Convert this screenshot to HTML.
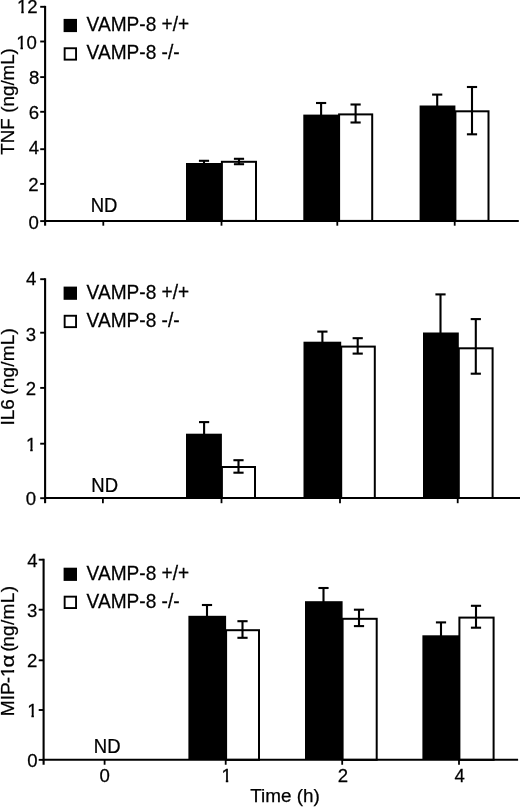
<!DOCTYPE html>
<html><head><meta charset="utf-8"><title>Figure</title>
<style>
html,body{margin:0;padding:0;background:#fff;}
body{width:520px;height:807px;overflow:hidden;}
svg{display:block;filter:grayscale(1);}
text{font-family:"Liberation Sans",sans-serif;fill:#000;stroke:#000;stroke-width:0.25px;}
</style></head><body>
<svg width="520" height="807" viewBox="0 0 520 807">
<defs><clipPath id="one19_2"><rect x="-1" y="-19.2" width="11.52" height="16.77"/><rect x="4.43" y="-19.2" width="2.5" height="21.2"/></clipPath><clipPath id="one19"><rect x="-1" y="-19" width="11.4" height="16.58"/><rect x="4.38" y="-19" width="2.48" height="21"/></clipPath></defs>
<rect width="520" height="807" fill="#fff"/>
<rect x="186" y="163" width="35.9" height="57.9" fill="#000"/>
<rect x="221.9" y="161.8" width="34.1" height="59.1" fill="#fff" stroke="#000" stroke-width="2"/>
<line x1="204" y1="160.8" x2="204" y2="164" stroke="#000" stroke-width="2.1"/>
<line x1="198.9" y1="160.8" x2="209.1" y2="160.8" stroke="#000" stroke-width="2.1"/>
<line x1="239" y1="158.8" x2="239" y2="164.2" stroke="#000" stroke-width="2.1"/>
<line x1="233.9" y1="158.8" x2="244.1" y2="158.8" stroke="#000" stroke-width="2.1"/>
<line x1="233.9" y1="164.2" x2="244.1" y2="164.2" stroke="#000" stroke-width="2.1"/>
<rect x="303.3" y="114.6" width="35.8" height="106.3" fill="#000"/>
<rect x="339.1" y="114.4" width="33.1" height="106.5" fill="#fff" stroke="#000" stroke-width="2"/>
<line x1="321.1" y1="103" x2="321.1" y2="115.6" stroke="#000" stroke-width="2.1"/>
<line x1="316" y1="103" x2="326.2" y2="103" stroke="#000" stroke-width="2.1"/>
<line x1="355.6" y1="104.5" x2="355.6" y2="122.5" stroke="#000" stroke-width="2.1"/>
<line x1="350.5" y1="104.5" x2="360.7" y2="104.5" stroke="#000" stroke-width="2.1"/>
<line x1="350.5" y1="122.5" x2="360.7" y2="122.5" stroke="#000" stroke-width="2.1"/>
<rect x="419.6" y="105.5" width="35.8" height="115.4" fill="#000"/>
<rect x="455.4" y="111.3" width="33.1" height="109.6" fill="#fff" stroke="#000" stroke-width="2"/>
<line x1="437.2" y1="94.6" x2="437.2" y2="106.5" stroke="#000" stroke-width="2.1"/>
<line x1="432.1" y1="94.6" x2="442.3" y2="94.6" stroke="#000" stroke-width="2.1"/>
<line x1="472" y1="87" x2="472" y2="134.3" stroke="#000" stroke-width="2.1"/>
<line x1="466.9" y1="87" x2="477.1" y2="87" stroke="#000" stroke-width="2.1"/>
<line x1="466.9" y1="134.3" x2="477.1" y2="134.3" stroke="#000" stroke-width="2.1"/>
<line x1="45.1" y1="5.85" x2="45.1" y2="225.7" stroke="#000" stroke-width="2.1"/>
<line x1="40.2" y1="6.8" x2="45.1" y2="6.8" stroke="#000" stroke-width="1.9"/>
<text x="0" y="0" font-size="19.2" transform="translate(17,13.3) scale(0.969,1)" clip-path="url(#one19_2)">1</text>
<text x="0" y="0" font-size="19.2" transform="translate(27.35,13.3) scale(0.969,1)">2</text>
<line x1="40.2" y1="41.5" x2="45.1" y2="41.5" stroke="#000" stroke-width="1.9"/>
<text x="0" y="0" font-size="19.2" transform="translate(16.2,49.1) scale(0.969,1)" clip-path="url(#one19_2)">1</text>
<text x="0" y="0" font-size="19.2" transform="translate(26.55,49.1) scale(0.969,1)">0</text>
<line x1="40.2" y1="77.1" x2="45.1" y2="77.1" stroke="#000" stroke-width="1.9"/>
<text x="0" y="0" font-size="19.2" transform="translate(28.95,84.1) scale(0.969,1)">8</text>
<line x1="40.2" y1="111.8" x2="45.1" y2="111.8" stroke="#000" stroke-width="1.9"/>
<text x="0" y="0" font-size="19.2" transform="translate(28.75,119.3) scale(0.969,1)">6</text>
<line x1="40.2" y1="149.2" x2="45.1" y2="149.2" stroke="#000" stroke-width="1.9"/>
<text x="0" y="0" font-size="19.2" transform="translate(28.75,154) scale(0.969,1)">4</text>
<line x1="40.2" y1="183.9" x2="45.1" y2="183.9" stroke="#000" stroke-width="1.9"/>
<text x="0" y="0" font-size="19.2" transform="translate(28.35,191.4) scale(0.969,1)">2</text>
<line x1="40.2" y1="221.1" x2="45.1" y2="221.1" stroke="#000" stroke-width="1.9"/>
<text x="0" y="0" font-size="19.2" transform="translate(28.45,228.6) scale(0.969,1)">0</text>
<line x1="44.2" y1="220.9" x2="518.8" y2="220.9" stroke="#000" stroke-width="2"/>
<line x1="103.3" y1="220.9" x2="103.3" y2="225.7" stroke="#000" stroke-width="1.8"/>
<line x1="221.5" y1="220.9" x2="221.5" y2="225.7" stroke="#000" stroke-width="1.8"/>
<line x1="337.3" y1="220.9" x2="337.3" y2="225.7" stroke="#000" stroke-width="1.8"/>
<line x1="454.7" y1="220.9" x2="454.7" y2="225.7" stroke="#000" stroke-width="1.8"/>
<text x="0" y="0" font-size="19.9" text-anchor="middle" transform="translate(104,211.6) scale(0.93,1)">ND</text>
<rect x="63.6" y="18.9" width="13.4" height="13.2" fill="#000"/>
<rect x="64.65" y="48.25" width="11.4" height="11.4" fill="#fff" stroke="#000" stroke-width="1.9"/>
<text x="0" y="0" font-size="19.9" transform="translate(86.6,31) scale(0.96,1)">VAMP-8 +/+</text>
<text x="0" y="0" font-size="19.9" transform="translate(86.6,59.2) scale(0.96,1)">VAMP-8 -/-</text>
<g transform="translate(13.7,101.8) rotate(-90)">
<text x="-52.99" y="0" font-size="18.7">TNF</text>
<text x="-10.84" y="0" font-size="18.7" letter-spacing="0">(ng/mL)</text>
</g>
<rect x="186" y="433.7" width="35.9" height="64.3" fill="#000"/>
<rect x="221.9" y="467" width="33.1" height="31" fill="#fff" stroke="#000" stroke-width="2"/>
<line x1="204.1" y1="422.1" x2="204.1" y2="434.7" stroke="#000" stroke-width="2.1"/>
<line x1="199" y1="422.1" x2="209.2" y2="422.1" stroke="#000" stroke-width="2.1"/>
<line x1="238.5" y1="460.2" x2="238.5" y2="472.7" stroke="#000" stroke-width="2.1"/>
<line x1="233.4" y1="460.2" x2="243.6" y2="460.2" stroke="#000" stroke-width="2.1"/>
<line x1="233.4" y1="472.7" x2="243.6" y2="472.7" stroke="#000" stroke-width="2.1"/>
<rect x="303.5" y="341.7" width="37.7" height="156.3" fill="#000"/>
<rect x="341.2" y="346.6" width="33.6" height="151.4" fill="#fff" stroke="#000" stroke-width="2"/>
<line x1="322.4" y1="331.6" x2="322.4" y2="342.7" stroke="#000" stroke-width="2.1"/>
<line x1="317.3" y1="331.6" x2="327.5" y2="331.6" stroke="#000" stroke-width="2.1"/>
<line x1="357.7" y1="338.2" x2="357.7" y2="353.6" stroke="#000" stroke-width="2.1"/>
<line x1="352.6" y1="338.2" x2="362.8" y2="338.2" stroke="#000" stroke-width="2.1"/>
<line x1="352.6" y1="353.6" x2="362.8" y2="353.6" stroke="#000" stroke-width="2.1"/>
<rect x="423" y="332.5" width="35.8" height="165.5" fill="#000"/>
<rect x="458.8" y="348.3" width="33.8" height="149.7" fill="#fff" stroke="#000" stroke-width="2"/>
<line x1="440.5" y1="294.4" x2="440.5" y2="333.5" stroke="#000" stroke-width="2.1"/>
<line x1="435.4" y1="294.4" x2="445.6" y2="294.4" stroke="#000" stroke-width="2.1"/>
<line x1="475.8" y1="319.1" x2="475.8" y2="373.7" stroke="#000" stroke-width="2.1"/>
<line x1="470.7" y1="319.1" x2="480.9" y2="319.1" stroke="#000" stroke-width="2.1"/>
<line x1="470.7" y1="373.7" x2="480.9" y2="373.7" stroke="#000" stroke-width="2.1"/>
<line x1="45.1" y1="278.25" x2="45.1" y2="503.2" stroke="#000" stroke-width="2.1"/>
<line x1="40.2" y1="279.2" x2="45.1" y2="279.2" stroke="#000" stroke-width="1.9"/>
<text x="0" y="0" font-size="19.2" transform="translate(25.95,285.1) scale(0.969,1)">4</text>
<line x1="40.2" y1="332.7" x2="45.1" y2="332.7" stroke="#000" stroke-width="1.9"/>
<text x="0" y="0" font-size="19.2" transform="translate(25.75,341) scale(0.969,1)">3</text>
<line x1="40.2" y1="387.9" x2="45.1" y2="387.9" stroke="#000" stroke-width="1.9"/>
<text x="0" y="0" font-size="19.2" transform="translate(25.85,395.3) scale(0.969,1)">2</text>
<line x1="40.2" y1="443.7" x2="45.1" y2="443.7" stroke="#000" stroke-width="1.9"/>
<text x="0" y="0" font-size="19.2" transform="translate(25.95,450.6) scale(0.969,1)" clip-path="url(#one19_2)">1</text>
<line x1="40.2" y1="498.2" x2="45.1" y2="498.2" stroke="#000" stroke-width="1.9"/>
<text x="0" y="0" font-size="19.2" transform="translate(25.85,504.5) scale(0.969,1)">0</text>
<line x1="44.2" y1="498" x2="520" y2="498" stroke="#000" stroke-width="2"/>
<line x1="102.9" y1="498" x2="102.9" y2="503.2" stroke="#000" stroke-width="1.8"/>
<line x1="221.5" y1="498" x2="221.5" y2="503.2" stroke="#000" stroke-width="1.8"/>
<line x1="340" y1="498" x2="340" y2="503.2" stroke="#000" stroke-width="1.8"/>
<line x1="457.7" y1="498" x2="457.7" y2="503.2" stroke="#000" stroke-width="1.8"/>
<text x="0" y="0" font-size="19.9" text-anchor="middle" transform="translate(104.7,492.1) scale(0.93,1)">ND</text>
<rect x="63.6" y="286.6" width="13.4" height="13.2" fill="#000"/>
<rect x="64.65" y="315.75" width="11.4" height="11.4" fill="#fff" stroke="#000" stroke-width="1.9"/>
<text x="0" y="0" font-size="19.9" transform="translate(86.6,298.9) scale(0.96,1)">VAMP-8 +/+</text>
<text x="0" y="0" font-size="19.9" transform="translate(86.6,327.4) scale(0.96,1)">VAMP-8 -/-</text>
<g transform="translate(13.7,376.9) rotate(-90)">
<text x="-48.58" y="0" font-size="19">IL6</text>
<text x="-17.89" y="0" font-size="19" letter-spacing="0.2">(ng/mL)</text>
</g>
<rect x="188.4" y="615.8" width="37.7" height="144.05" fill="#000"/>
<rect x="226.1" y="630.2" width="32.9" height="129.65" fill="#fff" stroke="#000" stroke-width="2"/>
<line x1="207" y1="605" x2="207" y2="616.8" stroke="#000" stroke-width="2.1"/>
<line x1="201.9" y1="605" x2="212.1" y2="605" stroke="#000" stroke-width="2.1"/>
<line x1="242.5" y1="621.2" x2="242.5" y2="637.8" stroke="#000" stroke-width="2.1"/>
<line x1="237.4" y1="621.2" x2="247.6" y2="621.2" stroke="#000" stroke-width="2.1"/>
<line x1="237.4" y1="637.8" x2="247.6" y2="637.8" stroke="#000" stroke-width="2.1"/>
<rect x="305" y="601.2" width="37.6" height="158.65" fill="#000"/>
<rect x="342.6" y="618.8" width="34.1" height="141.05" fill="#fff" stroke="#000" stroke-width="2"/>
<line x1="323.5" y1="588" x2="323.5" y2="602.2" stroke="#000" stroke-width="2.1"/>
<line x1="318.4" y1="588" x2="328.6" y2="588" stroke="#000" stroke-width="2.1"/>
<line x1="359" y1="609.7" x2="359" y2="626.1" stroke="#000" stroke-width="2.1"/>
<line x1="353.9" y1="609.7" x2="364.1" y2="609.7" stroke="#000" stroke-width="2.1"/>
<line x1="353.9" y1="626.1" x2="364.1" y2="626.1" stroke="#000" stroke-width="2.1"/>
<rect x="422.4" y="635.3" width="37" height="124.55" fill="#000"/>
<rect x="459.4" y="617.6" width="34.2" height="142.25" fill="#fff" stroke="#000" stroke-width="2"/>
<line x1="441" y1="622.4" x2="441" y2="636.3" stroke="#000" stroke-width="2.1"/>
<line x1="435.9" y1="622.4" x2="446.1" y2="622.4" stroke="#000" stroke-width="2.1"/>
<line x1="476" y1="605.8" x2="476" y2="627.7" stroke="#000" stroke-width="2.1"/>
<line x1="470.9" y1="605.8" x2="481.1" y2="605.8" stroke="#000" stroke-width="2.1"/>
<line x1="470.9" y1="627.7" x2="481.1" y2="627.7" stroke="#000" stroke-width="2.1"/>
<line x1="43.6" y1="558.75" x2="43.6" y2="764.75" stroke="#000" stroke-width="2.1"/>
<line x1="38.7" y1="559.7" x2="43.6" y2="559.7" stroke="#000" stroke-width="1.9"/>
<text x="0" y="0" font-size="19.2" transform="translate(27.15,566.7) scale(0.969,1)">4</text>
<line x1="38.7" y1="609.7" x2="43.6" y2="609.7" stroke="#000" stroke-width="1.9"/>
<text x="0" y="0" font-size="19.2" transform="translate(27,616.5) scale(0.969,1)">3</text>
<line x1="38.7" y1="660.3" x2="43.6" y2="660.3" stroke="#000" stroke-width="1.9"/>
<text x="0" y="0" font-size="19.2" transform="translate(27,667.1) scale(0.969,1)">2</text>
<line x1="38.7" y1="710" x2="43.6" y2="710" stroke="#000" stroke-width="1.9"/>
<text x="0" y="0" font-size="19.2" transform="translate(27.15,717) scale(0.969,1)" clip-path="url(#one19_2)">1</text>
<line x1="38.7" y1="759.85" x2="43.6" y2="759.85" stroke="#000" stroke-width="1.9"/>
<text x="0" y="0" font-size="19.2" transform="translate(27.15,766.85) scale(0.969,1)">0</text>
<line x1="42.7" y1="759.85" x2="518.1" y2="759.85" stroke="#000" stroke-width="2"/>
<line x1="104.6" y1="759.85" x2="104.6" y2="764.75" stroke="#000" stroke-width="1.8"/>
<line x1="225.7" y1="759.85" x2="225.7" y2="764.75" stroke="#000" stroke-width="1.8"/>
<line x1="342.2" y1="759.85" x2="342.2" y2="764.75" stroke="#000" stroke-width="1.8"/>
<line x1="459" y1="759.85" x2="459" y2="764.75" stroke="#000" stroke-width="1.8"/>
<text x="0" y="0" font-size="19.9" text-anchor="middle" transform="translate(107.2,753) scale(0.93,1)">ND</text>
<rect x="63.6" y="567.7" width="13.4" height="13.2" fill="#000"/>
<rect x="64.65" y="596.65" width="11.4" height="11.4" fill="#fff" stroke="#000" stroke-width="1.9"/>
<text x="0" y="0" font-size="19.9" transform="translate(86.6,579.9) scale(0.96,1)">VAMP-8 +/+</text>
<text x="0" y="0" font-size="19.9" transform="translate(86.6,608.1) scale(0.96,1)">VAMP-8 -/-</text>
<g transform="translate(14.3,650) rotate(-90)">
<text x="-66.2" y="0" font-size="19">MIP</text>
<text x="-33.22" y="0" font-size="19">-</text>
<text x="0" y="0" font-size="19" clip-path="url(#one19)" transform="translate(-26.89,0)">1</text>
<text x="0" y="0" font-size="19" transform="translate(-17.43,0) scale(1.18,1)">&#945;</text>
<text x="-1.86" y="0" font-size="19">(</text>
<text x="3.16" y="0" font-size="19" letter-spacing="0.35">ng/mL)</text>
</g>
<text x="0" y="0" font-size="19.2" transform="translate(99.53,781.7) scale(0.969,1)">0</text>
<text x="0" y="0" font-size="19.2" transform="translate(221.53,781.7) scale(0.969,1)" clip-path="url(#one19_2)">1</text>
<text x="0" y="0" font-size="19.2" transform="translate(337.63,781.7) scale(0.969,1)">2</text>
<text x="0" y="0" font-size="19.2" transform="translate(454.53,781.7) scale(0.969,1)">4</text>
<text x="285" y="802.1" font-size="18.9" text-anchor="middle">Time (h)</text>
</svg>
</body></html>
